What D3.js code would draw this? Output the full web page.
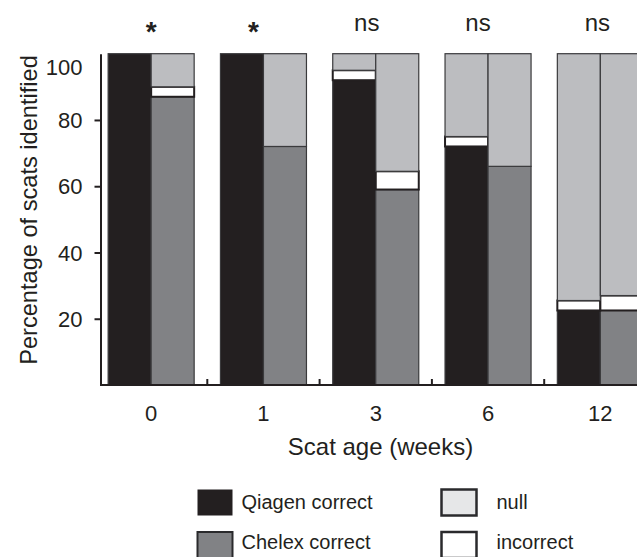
<!DOCTYPE html>
<html>
<head>
<meta charset="utf-8">
<script src="https://cdn.jsdelivr.net/npm/d3@7"></script>
<style>
  html, body { margin: 0; padding: 0; background: #fff; }
  svg { display: block; font-family: "Liberation Sans", Arial, Helvetica, sans-serif; }
</style>
</head>
<body>
<svg id="chart" width="637" height="557"></svg>
<script>
// ---- data ----
const weeks = ["0", "1", "3", "6", "12"];
const qiagenCorrect   = [100, 100, 92, 72, 22.5];
const qiagenIncorrect = [0, 0, 3, 3, 3];
const qiagenNull      = [0, 0, 5, 25, 74.5];
const chelexCorrect   = [87, 72, 59, 66, 22.5];
const chelexIncorrect = [3, 0, 5.5, 0, 4.5];
const chelexNull      = [10, 28, 35.5, 34, 73];
const significance    = ["*", "*", "ns", "ns", "ns"];
const yTickValues     = [20, 40, 60, 80, 100];
const legendLabels    = ["Qiagen correct", "Chelex correct", "null", "incorrect"];

// ---- styles ----
const ink = "#231f20";
const colQiagen = "#231f20";
const colChelex = "#818285";
const colNull = "#bcbdc0";
const colNullLegend = "#e6e7e8";
const colIncorrect = "#ffffff";
const sigNudge = [0, -10, -9, -10, -3];

const svg = d3.select("#chart");

const x = d3.scaleBand().domain(weeks).range([95, 656.5]).paddingInner(0.234).paddingOuter(0.117);
const sub = d3.scaleBand().domain(["Qiagen", "Chelex"]).range([0, x.bandwidth()]);
const y = d3.scaleLinear().domain([0, 100]).range([385, 53.7]);

const rows = [];
weeks.forEach((w, i) => {
  rows.push({ week: w, method: "Qiagen", correct: qiagenCorrect[i], incorrect: qiagenIncorrect[i], nul: qiagenNull[i] });
  rows.push({ week: w, method: "Chelex", correct: chelexCorrect[i], incorrect: chelexIncorrect[i], nul: chelexNull[i] });
});
const keys = ["correct", "incorrect", "nul"];
const stacked = d3.stack().keys(keys)(rows);

const fillFor = (key, method) => key === "correct" ? (method === "Qiagen" ? colQiagen : colChelex)
  : key === "incorrect" ? colIncorrect : colNull;

const barsG = svg.append("g");
stacked.forEach(layer => {
  barsG.append("g").selectAll("rect")
    .data(layer.filter(d => d[1] - d[0] > 0))
    .join("rect")
    .attr("x", d => x(d.data.week) + sub(d.data.method))
    .attr("width", sub.bandwidth())
    .attr("y", d => y(d[1]))
    .attr("height", d => y(d[0]) - y(d[1]))
    .attr("fill", d => fillFor(layer.key, d.data.method))
    .attr("stroke", layer.key === "incorrect" ? ink : "#3a3a3c")
    .attr("stroke-width", layer.key === "incorrect" ? 2 : 1.2);
});

// ---- y axis ----
const yAxis = svg.append("g")
  .attr("transform", "translate(100.5,0)")
  .call(d3.axisLeft(y).tickValues(yTickValues).tickSize(6).tickSizeOuter(0).tickPadding(12));
yAxis.select(".domain").attr("stroke", ink).attr("stroke-width", 2);
yAxis.selectAll(".tick line").attr("stroke", ink).attr("stroke-width", 2)
  .filter(d => d === 100).remove();
yAxis.selectAll(".tick text")
  .attr("fill", ink)
  .style("font-size", "22px")
  .style("font-family", "'Liberation Sans', Arial, sans-serif")
  .attr("dy", d => d === 100 ? "0.95em" : "0.35em");

// ---- x axis ----
const step = x.step();
const axisG = svg.append("g");
axisG.append("line")
  .attr("x1", 100).attr("x2", 637)
  .attr("y1", y(0)).attr("y2", y(0))
  .attr("stroke", ink).attr("stroke-width", 2);
axisG.selectAll("line.xt")
  .data(weeks.slice(1))
  .join("line")
  .attr("class", "xt")
  .attr("x1", d => x(d) - step * x.paddingInner() / 2)
  .attr("x2", d => x(d) - step * x.paddingInner() / 2)
  .attr("y1", y(0)).attr("y2", y(0) - 6)
  .attr("stroke", ink).attr("stroke-width", 2);
axisG.selectAll("text.xl")
  .data(weeks)
  .join("text")
  .attr("class", "xl")
  .attr("x", d => x(d) + x.bandwidth() / 2)
  .attr("y", 421)
  .attr("text-anchor", "middle")
  .attr("fill", ink)
  .style("font-size", "22px")
  .text(d => d);

// ---- significance labels ----
svg.append("g").selectAll("text")
  .data(weeks)
  .join("text")
  .attr("x", (d, i) => x(d) + x.bandwidth() / 2 + sigNudge[i])
  .attr("y", (d, i) => significance[i] === "*" ? 41 : 31)
  .attr("text-anchor", "middle")
  .attr("fill", ink)
  .style("font-size", (d, i) => significance[i] === "*" ? "28px" : "24px")
  .style("font-weight", (d, i) => significance[i] === "*" ? "bold" : "normal")
  .text((d, i) => significance[i]);

// ---- axis titles ----
svg.append("text")
  .attr("x", 380.5).attr("y", 455)
  .attr("text-anchor", "middle")
  .attr("fill", ink)
  .style("font-size", "24px")
  .text("Scat age (weeks)");
svg.append("text")
  .attr("transform", "translate(37,210) rotate(-90)")
  .attr("text-anchor", "middle")
  .attr("fill", ink)
  .style("font-size", "23.6px")
  .text("Percentage of scats identified");

// ---- legend ----
const legendFills = [colQiagen, colChelex, colNullLegend, colIncorrect];
const legendStroke = [0, 2, 2.5, 2.5];
const leg = svg.append("g").selectAll("g")
  .data(legendLabels)
  .join("g")
  .attr("transform", (d, i) => `translate(${i < 2 ? 197.5 : 441.5},${i % 2 === 0 ? 489.5 : 532})`);
leg.append("rect")
  .attr("width", 35).attr("height", 26)
  .attr("fill", (d, i) => legendFills[i])
  .attr("stroke", (d, i) => legendStroke[i] ? "#2a2a2c" : "none")
  .attr("stroke-width", (d, i) => legendStroke[i]);
leg.append("text")
  .attr("x", (d, i) => i < 2 ? 44 : 55)
  .attr("y", (d, i) => i % 2 === 0 ? 19 : 17)
  .attr("fill", ink)
  .style("font-size", "20px")
  .text(d => d);
</script>
</body>
</html>
